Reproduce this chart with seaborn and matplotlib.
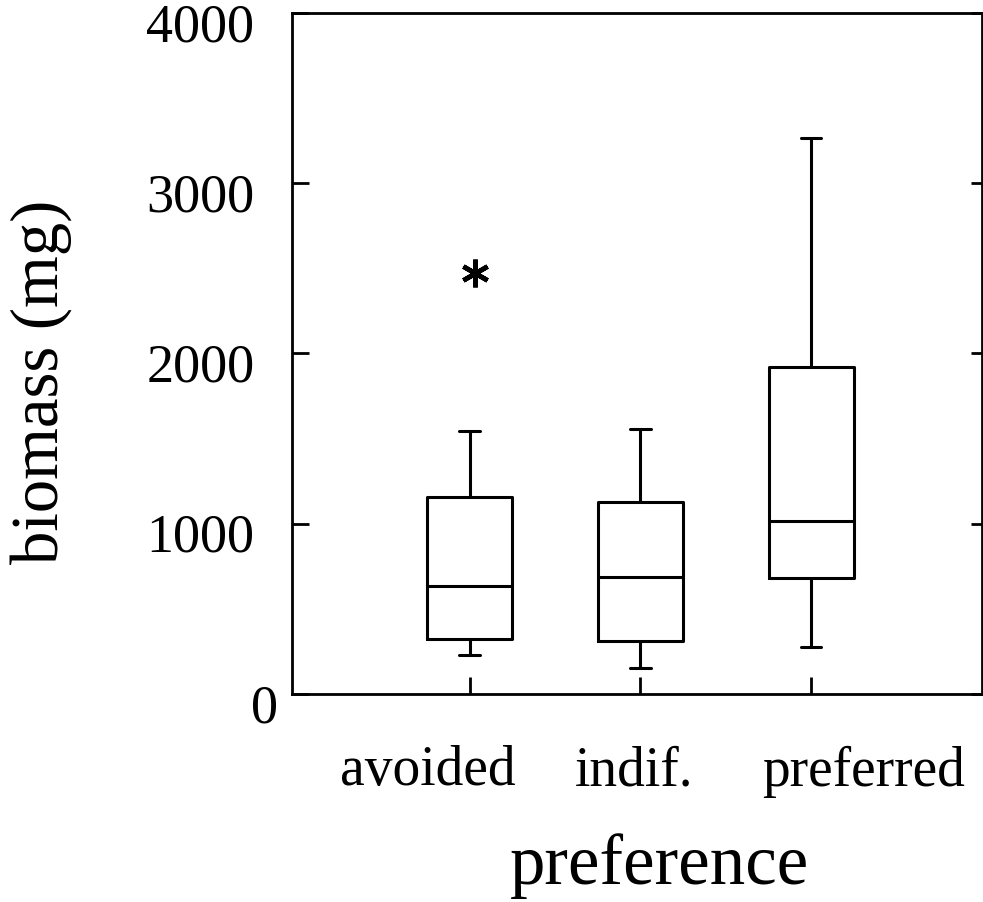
import numpy as np
import pandas as pd
import matplotlib
matplotlib.use("Agg")
from matplotlib import pyplot as plt
from matplotlib import transforms
import seaborn as sns

# values (mg)
categories = ["avoided", "indif.", "preferred"]
lows = [229, 152, 276]
q1s = [323, 311, 680]
medians = [633, 686, 1015]
q3s = [1155, 1126, 1918]
highs = [1543, 1554, 3267]
outliers = [[2470], [], []]
yticks = [0, 1000, 2000, 3000, 4000]

# nine points per group so the quartiles land exactly on the read values
rows = []
for cat, lo, q1, med, q3, hi, out in zip(categories, lows, q1s, medians, q3s, highs, outliers):
    pts = [lo, q1, q1, med, med, q3, q3, hi] + (out if out else [hi])
    for p in pts:
        rows.append({"preference": cat, "biomass": p})
df = pd.DataFrame(rows)

sns.set_style("ticks")
plt.rcParams['font.family'] = ['Liberation Serif', 'DejaVu Serif']
plt.rcParams['text.color'] = 'black'
plt.rcParams['axes.labelcolor'] = 'black'

fig = plt.figure(figsize=(9.83, 9.02), dpi=100)
ax = fig.add_axes([0.297, 0.2306, 0.702, 0.755])

sns.boxplot(data=df, x="preference", y="biomass", order=categories, width=0.5,
            fill=False, color="black", linecolor="black", linewidth=2.2, ax=ax,
            flierprops=dict(marker=(6, 2, 0), markersize=20, markeredgewidth=3.4,
                            markeredgecolor="black", markerfacecolor="black"))

# the scan has the labels (and the asterisk) nudged around a bit
def shift(artist, dx_px, dy_px):
    off = transforms.ScaledTranslation(dx_px / 100, dy_px / 100, fig.dpi_scale_trans)
    artist.set_transform(artist.get_transform() + off)

# shorter whisker caps like the original
for line in ax.lines:
    xd = np.asarray(line.get_xdata(), dtype=float)
    yd = np.asarray(line.get_ydata(), dtype=float)
    if len(xd) == 2 and yd[0] == yd[1] and abs(abs(xd[1] - xd[0]) - 0.25) < 1e-6:
        c = xd.mean()
        line.set_xdata([c - 0.06, c + 0.06])
    elif line.get_linestyle() == "None" and len(xd) > 0:
        shift(line, 5, 0)

ax.set_xlim(-1.04, 3.0)
ax.set_ylim(0, 4000)
ax.set_yticks(yticks)
for s in ax.spines.values():
    s.set_visible(True)
    s.set_color("black")
    s.set_linewidth(2)

ax.tick_params(axis="x", direction="in", length=12, width=2, pad=37, labelsize=40, colors="black")
ax.tick_params(axis="y", direction="in", length=12, width=2, pad=27, labelsize=39, colors="black",
               right=True)
# right-hand ticks are shorter in the original
for t in ax.yaxis.get_major_ticks():
    t.tick2line.set_markersize(8)

for lab, dx in zip(ax.get_xticklabels(), [-42, -6, 52]):
    shift(lab, dx, 0)
for lab in ax.get_yticklabels():
    shift(lab, 24 if lab.get_text() == "0" else 0, -9)

ax.set_xlabel("preference", fontsize=51, color="black")
ax.set_ylabel("biomass (mg)", fontsize=48, color="black")
ax.xaxis.set_label_coords(0.532, -0.205)
ax.yaxis.set_label_coords(-0.319, 0.458)

fig.savefig("out.png", dpi=100)
